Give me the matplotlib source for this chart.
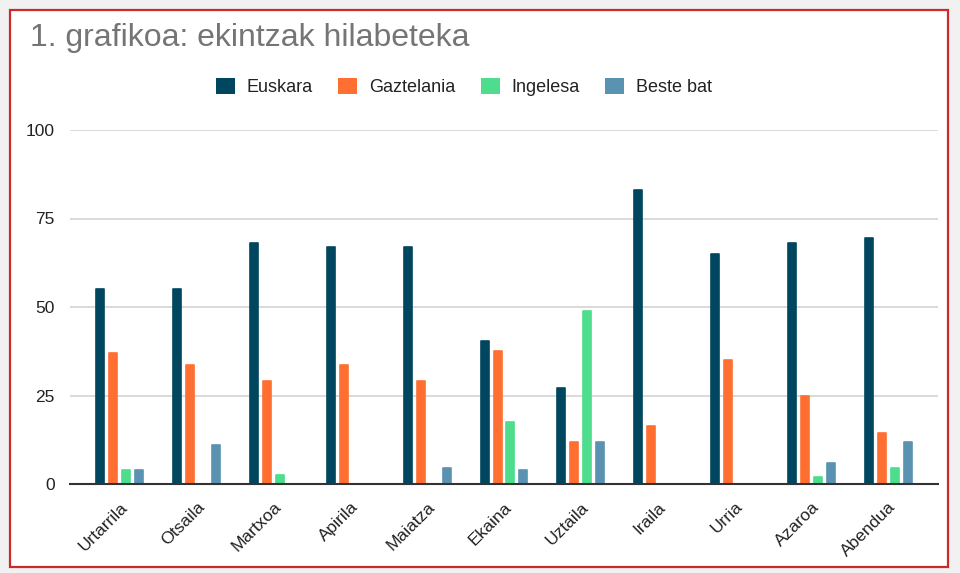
import matplotlib
matplotlib.use("Agg")
import matplotlib.pyplot as plt
from matplotlib.patches import Rectangle, Patch
import numpy as np

plt.rcParams['font.family'] = ['Liberation Sans', 'DejaVu Sans']

months = ['Urtarrila', 'Otsaila', 'Martxoa', 'Apirila', 'Maiatza', 'Ekaina',
          'Uztaila', 'Iraila', 'Urria', 'Azaroa', 'Abendua']
euskara = [55, 55, 68, 67, 67, 40.5, 27, 83, 65, 68, 69.5]
gaztelania = [37, 33.5, 29, 33.5, 29, 37.5, 12, 16.5, 35, 25, 14.5]
ingelesa = [4, 0, 2.5, 0, 0, 17.5, 49, 0, 0, 2, 4.5]
beste_bat = [4, 11, 0, 0, 4.5, 4, 12, 0, 0, 6, 12]

series = ['Euskara', 'Gaztelania', 'Ingelesa', 'Beste bat']
colors = ['#01465f', '#ff6f31', '#4ddd8c', '#5a93b1']

fig = plt.figure(figsize=(9.6, 5.73), dpi=100)
fig.patch.set_facecolor('#f1f1f1')
# white card with red border, behind everything
card = Rectangle((10 / 960, 1 - 567 / 573), 938 / 960, 557 / 573,
                 transform=fig.transFigure, facecolor='white',
                 edgecolor='#cc2a2a', linewidth=1.6, zorder=-10)
fig.patches.append(card)

ax = fig.add_axes([70 / 960, 1 - 484 / 573, 868 / 960, 354 / 573])
ax.set_facecolor('white')
ax.set_zorder(1)

x = np.arange(len(months))
step = 0.169
width = 0.104
for i, (vals, c) in enumerate(zip([euskara, gaztelania, ingelesa, beste_bat], colors)):
    # thin same-colour edge with round joins gives the soft rounded tops
    bars = ax.bar(x + (i - 1.5) * step, vals, width=width, color=c,
                  edgecolor=c, linewidth=1.2, zorder=3)
    for b, v in zip(bars, vals):
        b.set_joinstyle('round')
        if v == 0:
            b.set_visible(False)

ax.set_xlim(-0.65, 10.65)
ax.set_ylim(0, 100)
ax.set_yticks([0, 25, 50, 75, 100])
ax.yaxis.grid(True, color='#d3d3d3', linewidth=1.2, zorder=0)
ax.set_axisbelow(True)
ax.tick_params(axis='both', length=0, colors='#222222')
ax.tick_params(axis='y', pad=11, labelsize=12.5)
ax.tick_params(axis='x', pad=11, labelsize=12.5)
ax.set_xticks(x)
ax.set_xticklabels(months, rotation=45, ha='right', rotation_mode='anchor')
for s in ['top', 'right', 'left']:
    ax.spines[s].set_visible(False)
ax.spines['bottom'].set_color('#333333')
ax.spines['bottom'].set_linewidth(1.5)
ax.spines['bottom'].set_zorder(4)

fig.text(30 / 960, 1 - 38 / 573, '1. grafikoa: ekintzak hilabeteka',
         fontsize=23, color='#757575', va='center', ha='left')

handles = [Patch(facecolor=c, label=s) for s, c in zip(series, colors)]
fig.legend(handles=handles, loc='center', bbox_to_anchor=(464 / 960, 1 - 87 / 573),
           ncol=4, frameon=False, fontsize=13, handlelength=1.05, handleheight=1.05,
           handletextpad=0.67, columnspacing=1.4, labelcolor='#222222')

fig.savefig('out.png', dpi=100, facecolor=fig.get_facecolor())
